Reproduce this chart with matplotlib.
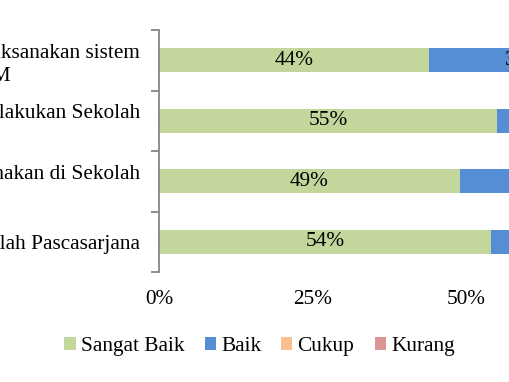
import matplotlib
matplotlib.use("Agg")
import matplotlib.pyplot as plt
import numpy as np

categories = [
    "Prosedur mutu dilaksanakan sistem\nSPM",
    "Evaluasi dan tindak lanjut yang dilakukan Sekolah\nPascasarjana",
    "Standar mutu yang diterapkan dan digunakan di Sekolah\nPascasarjana",
    "Kepuasan terhadap layanan Sekolah Pascasarjana",
]
series_names = ["Sangat Baik", "Baik", "Cukup", "Kurang"]
sangat_baik = [44, 55, 49, 54]
baik = [31, 35, 38, 36]
cukup = [20, 9, 11, 9]
kurang = [5, 1, 2, 1]
colors = ["#C3D69B", "#558ED5", "#FAC090", "#D99694"]
xticks = [0, 25, 50, 75, 100]

plt.rcParams["font.family"] = ["Liberation Serif", "DejaVu Serif"]
FS = 15.3

W, H = 510, 382
fig = plt.figure(figsize=(W / 100, H / 100), dpi=100)
ax = fig.add_axes([159 / W, 110 / H, 614 / W, 242 / H])

y = np.arange(len(categories))
left = np.zeros(len(categories))
handles = []
for name, vals, col in zip(series_names, [sangat_baik, baik, cukup, kurang], colors):
    v = np.array(vals) / 100.0
    b = ax.barh(y, v, left=left, height=0.4, color=col, label=name)
    handles.append(b)
    for yi, li, vi, raw in zip(y, left, v, vals):
        ax.text(li + vi / 2, yi, f"{raw}%", ha="center", va="center",
                fontsize=FS, color="black")
    left = left + v

ax.set_xlim(0, 1)
ax.set_ylim(len(categories) - 0.5, -0.5)

# x axis
ax.set_xticks([t / 100 for t in xticks])
ax.set_xticklabels([f"{t}%" for t in xticks], fontsize=FS)
ax.tick_params(axis="x", length=0, pad=13)

# y axis: boundary ticks (major) and labels at centers (minor)
ax.set_yticks(np.arange(-0.5, len(categories), 1.0))
ax.set_yticklabels([])
ax.set_yticks(y, minor=True)
ax.set_yticklabels(categories, minor=True, fontsize=FS, multialignment="center",
                   linespacing=1.32)
ax.tick_params(axis="y", which="major", length=6, width=1.3, color="#868686")
ax.tick_params(axis="y", which="minor", length=0, pad=13.7)

for s in ["top", "right", "bottom"]:
    ax.spines[s].set_visible(False)
ax.spines["left"].set_color("#868686")
ax.spines["left"].set_linewidth(1.3)

fig.legend(handles=handles, labels=series_names, loc="center left",
           bbox_to_anchor=(64.5 / W, (H - 346.5) / H), ncol=4, frameon=False,
           fontsize=FS, handlelength=0.52, handleheight=0.52,
           handletextpad=0.25, columnspacing=0.95, borderpad=0,
           borderaxespad=0)

fig.savefig("out.png", dpi=100)
